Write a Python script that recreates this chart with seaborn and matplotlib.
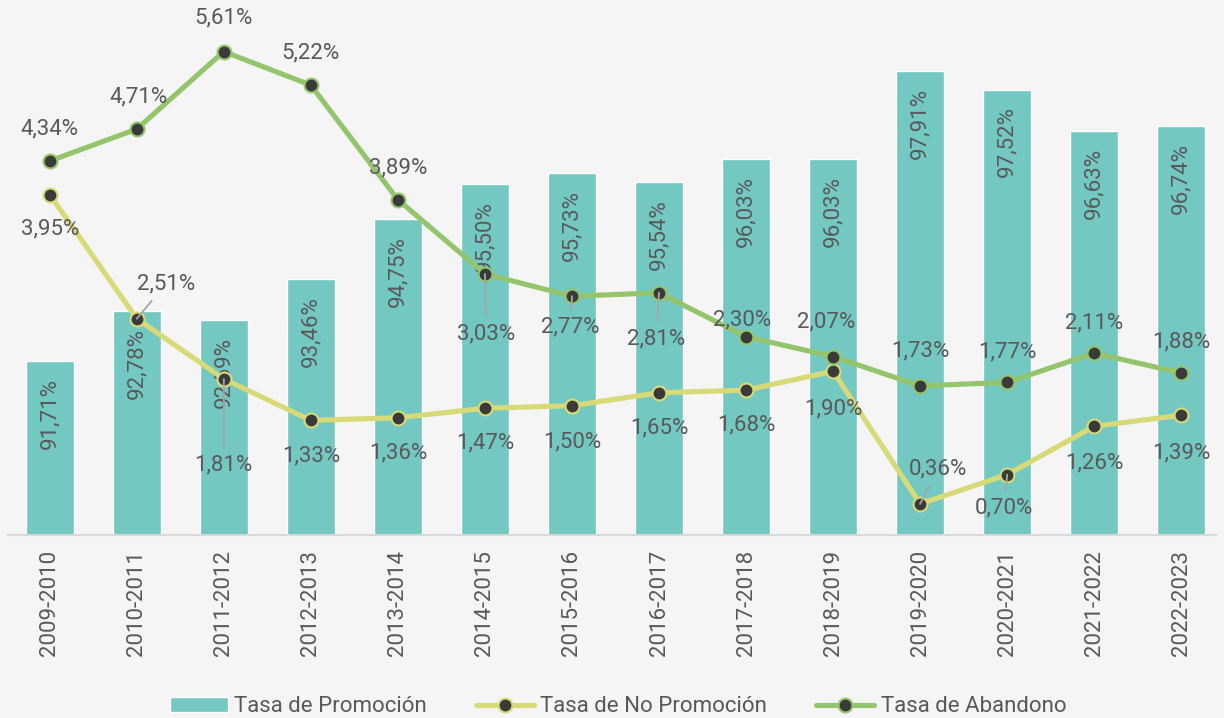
import matplotlib
matplotlib.use('Agg')
from matplotlib import pyplot as plt
from matplotlib.patches import Patch
from matplotlib.lines import Line2D
import numpy as np
import seaborn as sns

sns.set_style('white')
plt.rcParams['font.family'] = ['Roboto', 'DejaVu Sans']

periodos = ['2009-2010', '2010-2011', '2011-2012', '2012-2013', '2013-2014',
            '2014-2015', '2015-2016', '2016-2017', '2017-2018', '2018-2019',
            '2019-2020', '2020-2021', '2021-2022', '2022-2023']
promocion = [91.71, 92.78, 92.59, 93.46, 94.75, 95.50, 95.73, 95.54, 96.03,
             96.03, 97.91, 97.52, 96.63, 96.74]
no_promocion = [3.95, 2.51, 1.81, 1.33, 1.36, 1.47, 1.50, 1.65, 1.68, 1.90,
                0.36, 0.70, 1.26, 1.39]
abandono = [4.34, 4.71, 5.61, 5.22, 3.89, 3.03, 2.77, 2.81, 2.30, 2.07, 1.73,
            1.77, 2.11, 1.88]

# label offsets in points (dx, dy) and whether a leader line is drawn
off_aband = [(0, 23), (1, 23), (0, 24), (0, 23), (0, 23), (1, -43), (-1, -22),
             (-2, -33), (-3, 12), (-5, 25), (0, 25), (0, 22), (0, 22), (0, 22)]
lead_aband = [0, 0, 0, 0, 0, 1, 1, 1, 0, 0, 0, 0, 0, 0]
off_nopro = [(0, -25), (21, 25), (0, -62), (0, -26), (0, -25), (0, -25),
             (0, -26), (0, -25), (0, -25), (0, -27), (13, 25), (-2, -24),
             (0, -26), (0, -27)]
lead_nopro = [0, 1, 1, 0, 0, 0, 0, 0, 0, 0, 1, 1, 0, 0]

BG = '#f5f5f5'
C_BAR = '#73c8c2'
C_NOP = '#d8da78'
C_ABA = '#94c56c'
C_MK = '#3a3a3a'
C_TXT = '#595959'

fig = plt.figure(figsize=(12.24, 7.18), dpi=100, facecolor=BG)
ax = fig.add_axes([0.0065, 0.255, 0.987, 0.72])
ax.set_facecolor(BG)

sns.barplot(x=periodos, y=promocion, color=C_BAR, saturation=1, width=0.55,
            ax=ax)
ax.set_ylim(88, 99.05)
ax.set_xlim(-0.48, 13.4)

for i, v in enumerate(promocion):
    ax.annotate(f'{v:.2f}%'.replace('.', ','), (i, v), xytext=(0, -12),
                textcoords='offset points', rotation=90, ha='center',
                va='top', fontsize=16, color=C_TXT)

ax2 = ax.twinx()
x = np.arange(len(periodos))
sns.lineplot(x=x, y=no_promocion, color=C_NOP, lw=3.7, marker='o',
             markersize=10, markerfacecolor=C_MK, markeredgecolor=C_NOP,
             markeredgewidth=1.5, ax=ax2)
sns.lineplot(x=x, y=abandono, color=C_ABA, lw=3.7, marker='o',
             markersize=10, markerfacecolor=C_MK, markeredgecolor=C_ABA,
             markeredgewidth=1.5, ax=ax2)
ax2.set_ylim(0, 6.0)


def labels(vals, offs, leads):
    for i, v in enumerate(vals):
        dx, dy = offs[i]
        ap = None
        if leads[i]:
            ap = dict(arrowstyle='-', color='#a6a6a6', lw=1.3, shrinkA=3,
                      shrinkB=0)
        ax2.annotate(f'{v:.2f}%'.replace('.', ','), (i, v), xytext=(dx, dy),
                     textcoords='offset points', ha='center', va='center',
                     fontsize=16, color=C_TXT, arrowprops=ap)


labels(abandono, off_aband, lead_aband)
labels(no_promocion, off_nopro, lead_nopro)

for a in (ax, ax2):
    for s in ('top', 'left', 'right'):
        a.spines[s].set_visible(False)
    a.set_yticks([])
    a.set_ylabel('')
ax.spines['bottom'].set_color('#d9d9d9')
ax.spines['bottom'].set_linewidth(1.5)
ax2.spines['bottom'].set_visible(False)
ax.tick_params(axis='x', length=0, pad=11, labelsize=16, labelcolor=C_TXT,
               labelrotation=90)

handles = [
    Patch(facecolor=C_BAR, label='Tasa de Promoción'),
    Line2D([], [], color=C_NOP, lw=3.7, marker='o', markersize=10,
           markerfacecolor=C_MK, markeredgecolor=C_NOP, markeredgewidth=1.5,
           label='Tasa de No Promoción'),
    Line2D([], [], color=C_ABA, lw=3.7, marker='o', markersize=10,
           markerfacecolor=C_MK, markeredgecolor=C_ABA, markeredgewidth=1.5,
           label='Tasa de Abandono'),
]
fig.legend(handles=handles, loc='lower center', bbox_to_anchor=(0.505, -0.027),
           ncol=3, frameon=False, fontsize=16, labelcolor=C_TXT,
           handlelength=2.6, columnspacing=2.2, handletextpad=0.3)

plt.savefig('out.png', dpi=100, facecolor=BG)
